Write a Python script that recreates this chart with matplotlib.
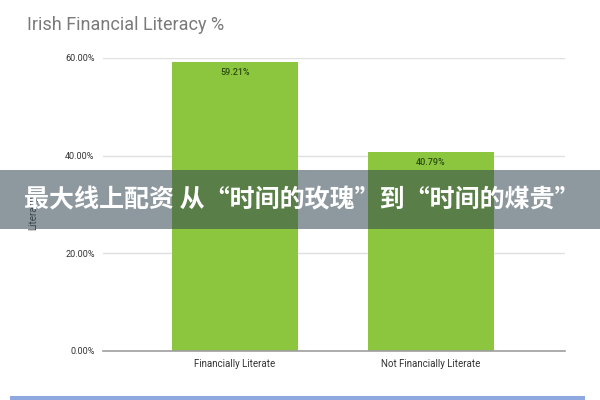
import matplotlib
matplotlib.use("Agg")
import matplotlib.pyplot as plt
from matplotlib.patches import Rectangle

categories = ["Financially Literate", "Not Financially Literate"]
values = [59.21, 40.79]
value_labels = ["59.21%", "40.79%"]
yticks = [0, 20, 40, 60]
ytick_labels = ["0.00%", "20.00%", "40.00%", "60.00%"]
title = "Irish Financial Literacy %"
ylabel = "Literacy"
banner_text = "最大线上配资 从“时间的玫瑰”到“时间的煤贵”"

plt.rcParams['font.family'] = ['Roboto', 'DejaVu Sans']

fig = plt.figure(figsize=(6, 4), dpi=100)
ax = fig.add_axes([103/600, 1-351/400, (565-103)/600, (351-58)/400])

x = list(range(len(categories)))
ax.bar(x, values, width=0.643, color="#8cc63f", zorder=2)
ax.set_xlim(-0.673, 1.684)
ax.set_ylim(0, 60)
ax.set_yticks(yticks)
ax.set_yticklabels(ytick_labels, fontsize=6.5, color="#333333")
ax.set_xticks(x)
ax.set_xticklabels(categories, fontsize=7, color="#333333")
ax.tick_params(length=0, pad=6)
ax.tick_params(axis='y', pad=6)
ax.grid(axis='y', color="#e0e0e0", linewidth=1, zorder=0)
for s in ["top", "right", "left"]:
    ax.spines[s].set_visible(False)
ax.spines["bottom"].set_color("#9e9e9e")
ax.spines["bottom"].set_linewidth(1.2)
ax.spines["bottom"].set_zorder(3)

for xi, v, lab in zip(x, values, value_labels):
    ax.text(xi, v - 1.2, lab, ha="center", va="top", fontsize=6.5, color="#2b4a10",
            fontweight="medium")

ax.set_ylabel(ylabel, fontsize=7, color="#444444")
ax.yaxis.set_label_coords(-0.14, 0.47)

fig.text(27/600, 1-25/400, title, fontsize=13, color="#7a7a7a", ha="left", va="center")

# banner overlay
fig.patches.append(Rectangle((0, 1-229/400), 1, 59/400, transform=fig.transFigure,
                             facecolor="#2f4450", alpha=0.55, zorder=10))
fig.text(0.503, 1-200/400, banner_text, fontsize=18, color="white", fontweight="bold",
         ha="center", va="center", zorder=11,
         family=['Noto Sans CJK SC', 'DejaVu Sans'])

# bottom blue strip
fig.patches.append(Rectangle((10/600, 0), 575/600, 4/400, transform=fig.transFigure,
                             facecolor="#8fa8e0", zorder=10))

fig.savefig("out.png", dpi=100)
